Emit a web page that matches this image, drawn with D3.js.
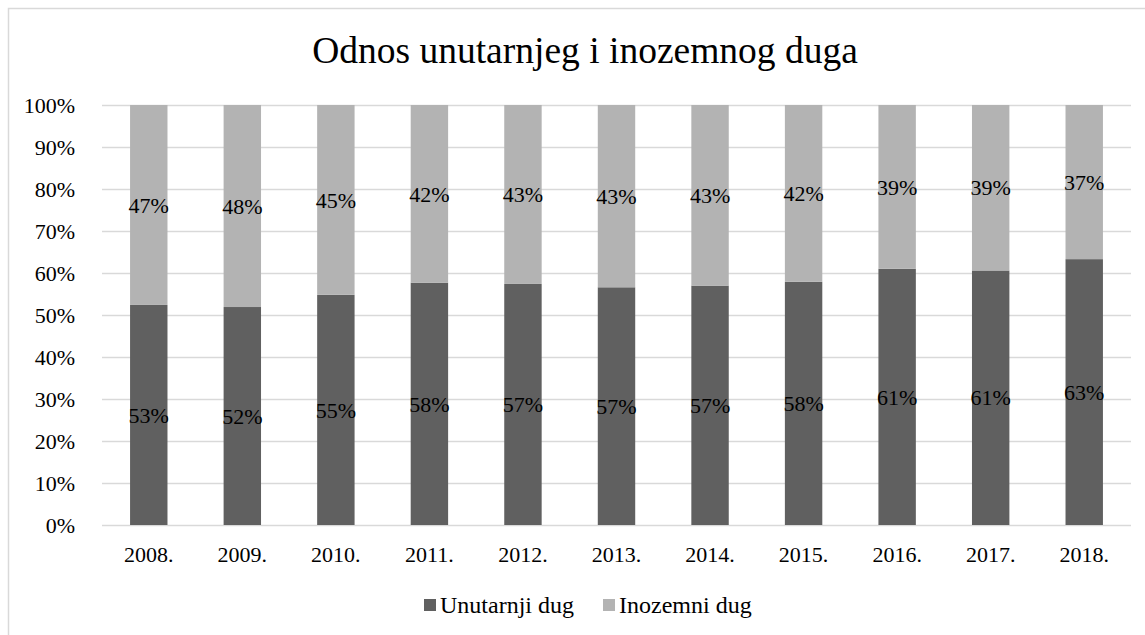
<!DOCTYPE html>
<html>
<head>
<meta charset="utf-8">
<script src="https://cdn.jsdelivr.net/npm/d3@7"></script>
<style>
    body { margin: 0; background: #fff; }
    svg { display: block; }
    svg text { font-family: "Liberation Serif", "Times New Roman", serif; fill: #000; }
</style>
</head>
<body>
<div id="chart"></div>
<script>
;(function () {

    var width = 1145
        , height = 635
        , margin = { top: 105, right: 14, bottom: 110, left: 102 }
        , fontSize = 22
        , svg;

    var years = ['2008.', '2009.', '2010.', '2011.', '2012.', '2013.', '2014.', '2015.', '2016.', '2017.', '2018.'];
    var unutarnji = [52.4, 51.9, 54.8, 57.7, 57.4, 56.6, 57.0, 57.9, 61.0, 60.6, 63.3];
    var inozemni = [47.6, 48.1, 45.2, 42.3, 42.6, 43.4, 43.0, 42.1, 39.0, 39.4, 36.7];
    var unutarnjiLabels = ['53%', '52%', '55%', '58%', '57%', '57%', '57%', '58%', '61%', '61%', '63%'];
    var inozemniLabels = ['47%', '48%', '45%', '42%', '43%', '43%', '43%', '42%', '39%', '39%', '37%'];
    var yTicks = [0, 10, 20, 30, 40, 50, 60, 70, 80, 90, 100];
    var seriesNames = ['Unutarnji dug', 'Inozemni dug'];
    var colors = ['#606060', '#b3b3b3'];

    function initialize() {
        svg = d3.select('#chart').append('svg')
            .attr('width', width)
            .attr('height', height);

        // outer chart border (only left and top visible in the crop)
        svg.append('path')
            .attr('d', 'M8.5,' + height + 'V8.5H' + width)
            .attr('fill', 'none')
            .attr('stroke', '#d9d9d9')
            .attr('stroke-width', 1.5);

        svg.append('text')
            .attr('x', 585)
            .attr('y', 63)
            .attr('text-anchor', 'middle')
            .attr('font-size', 37.5)
            .text('Odnos unutarnjeg i inozemnog duga');

        var x = d3.scaleBand()
            .domain(years)
            .range([margin.left, width - margin.right])
            .paddingInner(0.6)
            .paddingOuter(0.3);

        var y = d3.scaleLinear()
            .domain([0, 100])
            .range([height - margin.bottom, margin.top]);

        // gridlines
        svg.append('g')
            .selectAll('line')
            .data(yTicks)
            .enter().append('line')
            .attr('x1', margin.left)
            .attr('x2', width - margin.right)
            .attr('y1', function (d) { return Math.round(y(d)) + 0.5; })
            .attr('y2', function (d) { return Math.round(y(d)) + 0.5; })
            .attr('stroke', '#d9d9d9')
            .attr('stroke-width', 1.5);

        var yAxis = svg.append('g')
            .attr('transform', 'translate(' + (margin.left - 24) + ',0)')
            .call(d3.axisLeft(y).tickValues(yTicks).tickSize(0).tickFormat(function (d) { return d + '%'; }));
        yAxis.attr('font-family', null).attr('font-size', fontSize);
        yAxis.select('.domain').remove();
        yAxis.selectAll('text')
            .attr('fill', null)
            .attr('dy', '0.34em');

        var xAxis = svg.append('g')
            .attr('transform', 'translate(0,' + (height - margin.bottom) + ')')
            .call(d3.axisBottom(x).tickSize(0).tickPadding(21));
        xAxis.attr('font-family', null).attr('font-size', fontSize);
        xAxis.select('.domain').remove();
        xAxis.selectAll('text')
            .attr('fill', null);

        var rows = years.map(function (yr, i) {
            return { year: yr, u: unutarnji[i], i: inozemni[i], lu: unutarnjiLabels[i], li: inozemniLabels[i] };
        });
        var stack = d3.stack().keys(['u', 'i']).offset(d3.stackOffsetExpand);
        var layers = stack(rows);

        var groups = svg.append('g')
            .selectAll('g')
            .data(layers)
            .enter().append('g');

        groups.selectAll('rect')
            .data(function (d) { return d; })
            .enter().append('rect')
            .attr('fill', function () { return colors[d3.select(this.parentNode).datum().index]; })
            .attr('x', function (d) { return x(d.data.year); })
            .attr('width', x.bandwidth())
            .attr('y', function (d) { return y(d[1] * 100); })
            .attr('height', function (d) { return y(d[0] * 100) - y(d[1] * 100); });

        groups.selectAll('text')
            .data(function (d) { return d.map(function (p) { p.key = d.key; return p; }); })
            .enter().append('text')
            .attr('x', function (d) { return x(d.data.year) + x.bandwidth() / 2; })
            .attr('y', function (d) { return y((d[0] + d[1]) * 50); })
            .attr('dy', '0.35em')
            .attr('text-anchor', 'middle')
            .attr('font-size', fontSize)
            .text(function (d) { return d.key === 'u' ? d.data.lu : d.data.li; });

        // legend
        var legendX = [424, 603];
        var legend = svg.append('g')
            .selectAll('g')
            .data(seriesNames)
            .enter().append('g')
            .attr('transform', function (d, k) { return 'translate(' + legendX[k] + ',599)'; });
        legend.append('rect')
            .attr('width', 12)
            .attr('height', 12)
            .attr('fill', function (d, k) { return colors[k]; });
        legend.append('text')
            .attr('x', 16)
            .attr('y', 14)
            .attr('font-size', 24)
            .text(function (d) { return d; });
    }

    initialize();

}());
</script>
</body>
</html>
